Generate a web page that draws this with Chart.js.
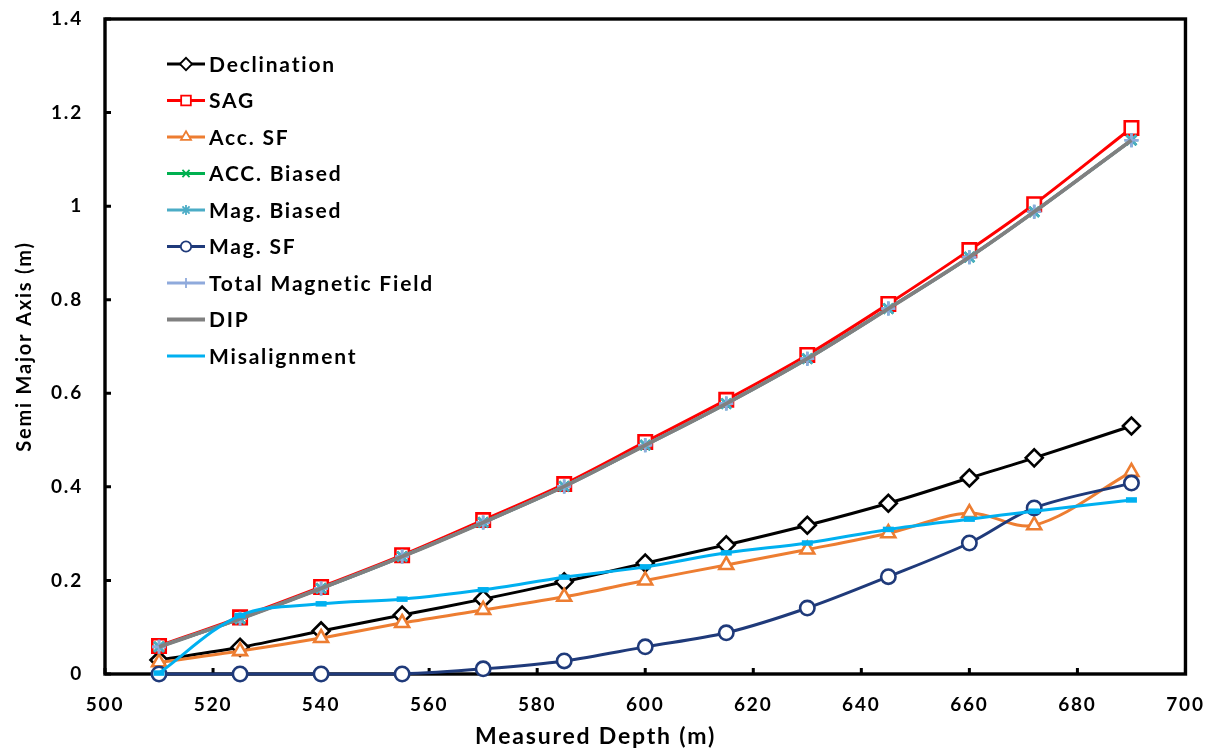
<!DOCTYPE html>
<html>
<head>
<meta charset="utf-8">
<script src="https://cdn.jsdelivr.net/npm/chart.js@4.4.1/dist/chart.umd.min.js"></script>
<style>
  html, body { margin: 0; padding: 0; background: #ffffff; }
  #wrap { width: 1221px; height: 753px; position: relative; }
</style>
</head>
<body>
<div id="wrap"><canvas id="c" width="1221" height="753"></canvas></div>
<script>
// Measured depth of each survey station (m)
const depth = [510, 525, 540, 555, 570, 585, 600, 615, 630, 645, 660, 672, 690];

// Semi major axis of the error ellipse (m) for each error source
const declination  = [0.030, 0.057, 0.092, 0.126, 0.160, 0.197, 0.237, 0.276, 0.318, 0.365, 0.419, 0.462, 0.530];
const sag          = [0.060, 0.121, 0.186, 0.254, 0.329, 0.406, 0.496, 0.586, 0.682, 0.791, 0.906, 1.004, 1.167];
const accSF        = [0.025, 0.049, 0.077, 0.109, 0.137, 0.165, 0.200, 0.233, 0.266, 0.301, 0.344, 0.318, 0.432];
const accBiased    = [0.058, 0.118, 0.183, 0.251, 0.324, 0.401, 0.489, 0.578, 0.674, 0.781, 0.891, 0.988, 1.141];
const magBiased    = [0.058, 0.118, 0.183, 0.251, 0.324, 0.401, 0.489, 0.578, 0.674, 0.781, 0.891, 0.988, 1.141];
const magSF        = [0.000, 0.000, 0.000, 0.000, 0.011, 0.028, 0.058, 0.088, 0.141, 0.208, 0.280, 0.355, 0.408];
const totalField   = [0.058, 0.118, 0.183, 0.251, 0.324, 0.401, 0.489, 0.578, 0.674, 0.781, 0.891, 0.988, 1.141];
const dip          = [0.058, 0.118, 0.183, 0.251, 0.324, 0.401, 0.489, 0.578, 0.674, 0.781, 0.891, 0.988, 1.141];
const misalignment = [0.002, 0.125, 0.150, 0.160, 0.180, 0.207, 0.229, 0.259, 0.280, 0.309, 0.331, 0.348, 0.372];

// Axis ranges and titles
const xTicks = { min: 500, max: 700, step: 20 };
const yTicks = { min: 0, max: 1.4, step: 0.2 };
const xTitle = 'Measured Depth (m)';
const yTitle = 'Semi Major Axis (m)';

const seriesNames = ['Declination', 'SAG', 'Acc. SF', 'ACC. Biased', 'Mag. Biased', 'Mag. SF',
                     'Total Magnetic Field', 'DIP', 'Misalignment'];
const seriesValues = [declination, sag, accSF, accBiased, magBiased, magSF, totalField, dip, misalignment];
const seriesStyle = [
  { color: '#000000', point: 'rectRot', r: 8.5 },
  { color: '#ff0000', point: 'rect', r: 9.5 },
  { color: '#ed7d31', point: 'triangle', r: 8 },
  { color: '#00b050', point: 'crossRot', r: 7 },
  { color: '#4bacc6', point: 'star', r: 7 },
  { color: '#1f3a7a', point: 'circle', r: 7.2 },
  { color: '#8faadc', point: 'cross', r: 7 },
  { color: '#808080', point: false, r: 0 },
  { color: '#00b0f0', point: 'line', r: 5.5 }
];

const n = seriesNames.length;
const datasets = seriesNames.map((name, i) => {
  const s = seriesStyle[i];
  return {
    label: name,
    data: depth.map((d, k) => ({ x: d, y: seriesValues[i][k] })),
    borderColor: s.color,
    backgroundColor: s.color,
    borderWidth: i === 7 ? 3.8 : 3,
    tension: 0.33,
    pointStyle: s.point,
    pointRadius: s.r,
    pointHoverRadius: s.r,
    pointBorderWidth: s.point === 'line' ? 5.5 : 2.6,
    pointBorderColor: s.color,
    pointBackgroundColor: '#ffffff',
    clip: false,
    order: n - i
  };
});

// Slightly spaced lettering for all chart text
const spacing = {
  id: 'spacing',
  beforeDraw(chart) { chart.ctx.letterSpacing = '1.8px'; }
};

// Boxed plot area with inward tick marks
const frame = {
  id: 'frame',
  beforeDatasetsDraw(chart) {
    const { ctx, chartArea: a, scales: { x, y } } = chart;
    ctx.save();
    ctx.strokeStyle = '#000000';
    ctx.lineWidth = 3.4;
    ctx.strokeRect(a.left, a.top, a.right - a.left, a.bottom - a.top);
    ctx.lineWidth = 3;
    ctx.beginPath();
    x.ticks.forEach(t => {
      const px = x.getPixelForValue(t.value);
      ctx.moveTo(px, a.bottom); ctx.lineTo(px, a.bottom - 6);
    });
    y.ticks.forEach(t => {
      const py = y.getPixelForValue(t.value);
      ctx.moveTo(a.left, py); ctx.lineTo(a.left + 6, py);
    });
    ctx.stroke();
    ctx.restore();
  }
};

// Legend drawn inside the plot area, top-left
const insideLegend = {
  id: 'insideLegend',
  afterDatasetsDraw(chart) {
    const { ctx, chartArea: a } = chart;
    const x0 = a.left + 62, x1 = a.left + 100, tx = a.left + 104;
    const y0 = a.top + 45, dy = 36.5;
    ctx.save();
    chart.data.datasets.forEach((ds, i) => {
      const y = y0 + i * dy;
      ctx.strokeStyle = ds.borderColor;
      ctx.lineWidth = ds.borderWidth;
      ctx.beginPath(); ctx.moveTo(x0, y); ctx.lineTo(x1, y); ctx.stroke();
      if (ds.pointStyle && ds.pointStyle !== 'line') {
        ctx.fillStyle = '#ffffff';
        ctx.strokeStyle = ds.borderColor;
        ctx.lineWidth = 1.8;
        Chart.helpers.drawPoint(ctx, {
          pointStyle: ds.pointStyle, radius: ds.pointRadius * 0.72, rotation: 0, borderWidth: 1.8
        }, (x0 + x1) / 2, y);
      }
      ctx.fillStyle = '#000000';
      ctx.font = 'bold 21px Lato';
      ctx.textAlign = 'left';
      ctx.textBaseline = 'middle';
      ctx.fillText(ds.label, tx, y + 1);
    });
    ctx.restore();
  }
};

Chart.defaults.font.family = 'Lato';
Chart.defaults.color = '#000000';

new Chart(document.getElementById('c'), {
  type: 'line',
  data: { datasets },
  plugins: [spacing, frame, insideLegend],
  options: {
    responsive: false,
    animation: false,
    devicePixelRatio: 1,
    layout: { padding: { left: 0, top: 19, right: 30, bottom: 0 } },
    plugins: {
      legend: { display: false },
      tooltip: { enabled: false },
      title: {
        display: true,
        position: 'bottom',
        text: xTitle,
        color: '#000000',
        font: { size: 23, weight: 'bold', family: 'Lato' },
        padding: { top: 0, bottom: 3 }
      }
    },
    scales: {
      x: {
        type: 'linear',
        min: xTicks.min, max: xTicks.max,
        ticks: { stepSize: xTicks.step, padding: 19, font: { size: 19, weight: 'bold' }, color: '#000000', maxRotation: 0 },
        grid: { display: false, drawTicks: false },
        border: { display: false },
        afterFit(s) { s.height = 48.4; }
      },
      y: {
        min: yTicks.min, max: yTicks.max,
        ticks: {
          stepSize: yTicks.step, padding: 22, font: { size: 19, weight: 'bold' }, color: '#000000',
          callback: v => String(Number(v.toFixed(1)))
        },
        grid: { display: false, drawTicks: false },
        border: { display: false },
        title: {
          display: true, text: yTitle, color: '#000000',
          font: { size: 20, weight: 'bold' },
          padding: { top: 13, bottom: 0 }
        },
        afterFit(s) { s.width = 105; s.paddingTop = 0; s.paddingBottom = 0; }
      }
    }
  }
});
</script>
</body>
</html>
